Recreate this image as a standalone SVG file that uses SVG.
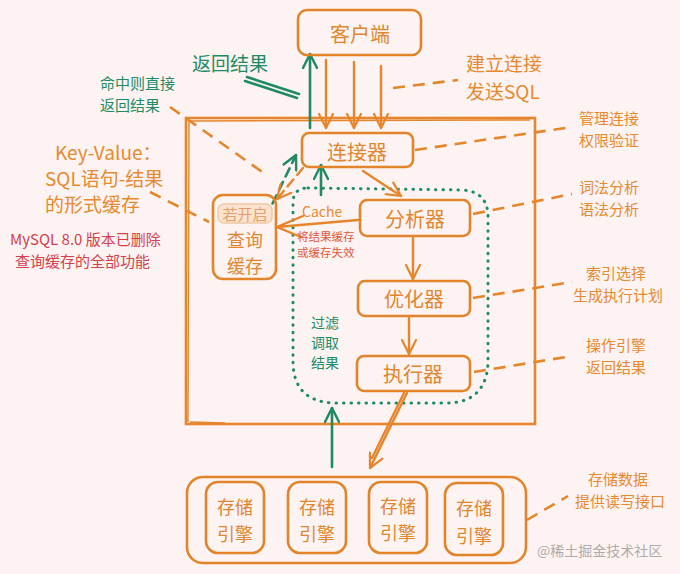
<svg xmlns="http://www.w3.org/2000/svg" width="680" height="574" viewBox="0 0 680 574">
<defs>
<style>
text{font-family:"Noto Sans CJK SC","Liberation Sans",sans-serif;dominant-baseline:central}
.box{fill:none;stroke:#e2852a;stroke-width:2.6}
.bt{fill:#e2862e;font-size:20px;text-anchor:middle}
.st{fill:#e2862e;font-size:18px;text-anchor:middle}
.or{fill:#e8892e}
.gr{fill:#1e8b64}
.red{fill:#d2414c}
.ln{fill:none;stroke:#e6862c;stroke-width:2.4;stroke-linecap:round}
.dash{fill:none;stroke:#e6862c;stroke-width:2.6;stroke-dasharray:12 8}
.gln{fill:none;stroke:#1e8b64;stroke-width:2.6;stroke-linecap:round}
</style>
<marker id="ao" viewBox="0 0 16 16" refX="15" refY="8" markerWidth="16" markerHeight="16" markerUnits="userSpaceOnUse" orient="auto"><path d="M1,1 L15,8 L1,15" fill="none" stroke="#e6862c" stroke-width="2.2" stroke-linecap="round"/></marker>
<marker id="ag" viewBox="0 0 16 16" refX="15" refY="8" markerWidth="16" markerHeight="16" markerUnits="userSpaceOnUse" orient="auto"><path d="M1,1 L15,8 L1,15" fill="none" stroke="#1e8b64" stroke-width="2.4" stroke-linecap="round"/></marker>
</defs>
<rect width="680" height="574" fill="#fdf3f2"/>

<g id="server">
<rect x="186" y="118" width="349" height="306" fill="none" stroke="#e6862c" stroke-width="2.6"/>
<path d="M188,121 L530,120 M189,121 L188,422 M190,422 L225,423" fill="none" stroke="#e6862c" stroke-width="1.4"/>
</g>

<g id="region">
<path d="M308,188 L463,190 Q488,192 488,217 L488,363 Q486,403 446,403 L333,403 Q293,401 293,361 L293,203 Q293,188 308,188 Z" fill="none" stroke="#1e8b64" stroke-width="3" stroke-dasharray="0.5 7" stroke-linecap="round"/>
</g>

<g id="connectors">
<line class="ln" x1="326" y1="60" x2="326" y2="128" marker-end="url(#ao)"/>
<line class="ln" x1="354" y1="62" x2="354" y2="128" marker-end="url(#ao)"/>
<line class="ln" x1="381" y1="66" x2="381" y2="128" marker-end="url(#ao)"/>
<line class="gln" x1="310" y1="128" x2="310" y2="54" marker-end="url(#ag)"/>
<path d="M247,77 L299,94 M245,81 L297,98" class="gln" stroke-width="2"/>
<line class="gln" x1="266" y1="217" x2="296" y2="155" stroke-dasharray="9 6" marker-end="url(#ag)"/>
<line class="ln" x1="303" y1="168" x2="277" y2="199" stroke-dasharray="9 6" marker-end="url(#ao)"/>
<line class="gln" x1="321" y1="195" x2="321" y2="165" marker-end="url(#ag)"/>
<line class="ln" x1="363" y1="171" x2="401" y2="196" marker-end="url(#ao)"/>
<path class="ln" d="M358,220 L277,227 M303,216 L277,227 L301,237"/>
<line class="ln" x1="413" y1="238" x2="413" y2="279" marker-end="url(#ao)"/>
<line class="ln" x1="409" y1="318" x2="409" y2="354" marker-end="url(#ao)"/>
<line class="ln" x1="407" y1="393" x2="370" y2="468" marker-end="url(#ao)"/>
<line class="ln" x1="404" y1="393" x2="372" y2="458" stroke-width="1.3"/>
<line class="gln" x1="332" y1="467" x2="332" y2="408" marker-end="url(#ag)"/>
<line class="dash" x1="393" y1="88" x2="458" y2="80"/>
<line class="dash" x1="415" y1="150" x2="572" y2="127"/>
<line class="dash" x1="473" y1="214" x2="572" y2="194"/>
<line class="dash" x1="473" y1="298" x2="572" y2="282"/>
<line class="dash" x1="474" y1="372" x2="572" y2="356"/>
<line class="dash" x1="527" y1="520" x2="568" y2="496"/>
<line class="dash" x1="170" y1="107" x2="268" y2="176"/>
<line class="dash" x1="150" y1="192" x2="209" y2="222"/>
</g>

<g id="client">
<rect class="box" x="298" y="10" width="123" height="45" rx="9"/>
<text class="bt" x="360" y="33">客户端</text>
</g>
<g id="connector">
<rect class="box" x="302" y="133" width="111" height="34" rx="7"/>
<text class="bt" x="357" y="151">连接器</text>
</g>
<g id="analyzer">
<rect class="box" x="360" y="200" width="110" height="36" rx="7"/>
<text class="bt" x="415" y="218">分析器</text>
</g>
<g id="optimizer">
<rect class="box" x="358" y="281" width="112" height="35" rx="7"/>
<text class="bt" x="414" y="298">优化器</text>
</g>
<g id="executor">
<rect class="box" x="357" y="356" width="113" height="35" rx="7"/>
<text class="bt" x="413" y="373">执行器</text>
</g>
<g id="querycache">
<rect class="box" x="213" y="195" width="63" height="84" rx="10"/>
<rect x="218" y="204" width="54" height="19" rx="6" fill="#fbe3cf" stroke="#f2c9a5" stroke-width="1.5"/>
<text x="245" y="213" font-size="15" text-anchor="middle" fill="#e2a070">若开启</text>
<text class="st" x="245" y="239">查询</text>
<text class="st" x="245" y="265">缓存</text>
</g>
<g id="storage">
<rect class="box" x="187" y="477" width="339" height="86" rx="16"/>
<rect class="box" x="206" y="482" width="58" height="71" rx="12"/>
<text class="st" x="235" y="506">存储</text><text class="st" x="235" y="533">引擎</text>
<rect class="box" x="288" y="482" width="58" height="71" rx="12"/>
<text class="st" x="317" y="506">存储</text><text class="st" x="317" y="533">引擎</text>
<rect class="box" x="369" y="482" width="58" height="71" rx="12"/>
<text class="st" x="398" y="505">存储</text><text class="st" x="398" y="532">引擎</text>
<rect class="box" x="445" y="483" width="58" height="72" rx="12"/>
<text class="st" x="474" y="507">存储</text><text class="st" x="474" y="535">引擎</text>
</g>

<g id="labels">
<text class="gr" x="192" y="62" font-size="19">返回结果</text>
<text class="gr" x="100" y="82" font-size="15">命中则直接</text>
<text class="gr" x="100" y="104" font-size="15">返回结果</text>
<text class="or" x="466" y="62" font-size="19">建立连接</text>
<text class="or" x="466" y="90" font-size="19">发送SQL</text>
<text class="or" x="579" y="117" font-size="15">管理连接</text>
<text class="or" x="579" y="139" font-size="15">权限验证</text>
<text class="or" x="55" y="151" font-size="19">Key-Value：</text>
<text class="or" x="45" y="177" font-size="19">SQL语句-结果</text>
<text class="or" x="45" y="203" font-size="19">的形式缓存</text>
<text class="red" x="10" y="238" font-size="15">MySQL 8.0 版本已删除</text>
<text class="red" x="15" y="260" font-size="15">查询缓存的全部功能</text>
<text class="or" x="302" y="211" font-size="14">Cache</text>
<text x="297" y="236" font-size="11.5" fill="#e05a3a">将结果缓存</text>
<text x="297" y="252" font-size="11.5" fill="#e05a3a">或缓存失效</text>
<text class="or" x="579" y="186" font-size="15">词法分析</text>
<text class="or" x="579" y="208" font-size="15">语法分析</text>
<text class="or" x="586" y="272" font-size="15">索引选择</text>
<text class="or" x="573" y="294" font-size="15">生成执行计划</text>
<text class="or" x="586" y="344" font-size="15">操作引擎</text>
<text class="or" x="586" y="366" font-size="15">返回结果</text>
<text class="gr" x="311" y="322" font-size="14">过滤</text>
<text class="gr" x="311" y="342" font-size="14">调取</text>
<text class="gr" x="311" y="362" font-size="14">结果</text>
<text class="or" x="588" y="478" font-size="15">存储数据</text>
<text class="or" x="575" y="500" font-size="15">提供读写接口</text>
<text x="537" y="550" font-size="14" fill="#b0abab">@稀土掘金技术社区</text>
</g>
</svg>
